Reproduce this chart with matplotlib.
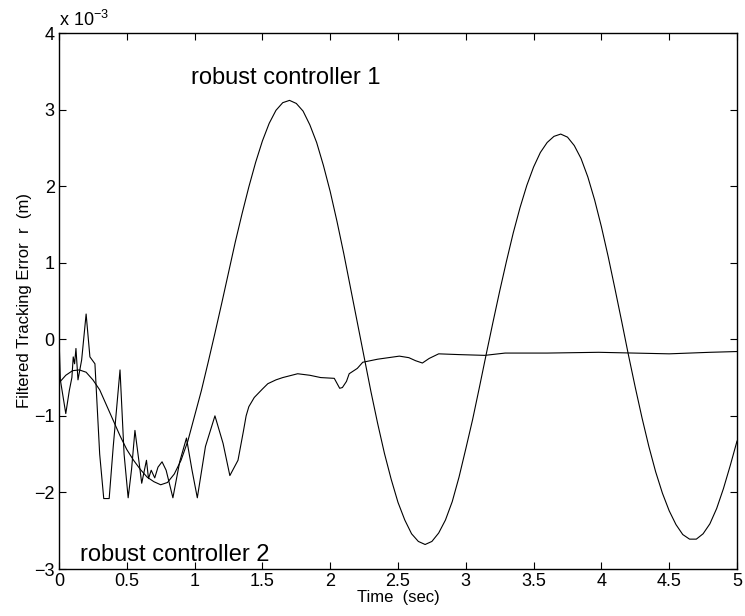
import matplotlib
matplotlib.use('Agg')
import matplotlib.pyplot as plt

plt.rcParams['font.family'] = ['Liberation Sans Narrow', 'Liberation Sans', 'DejaVu Sans']
plt.rcParams['mathtext.default'] = 'regular'

# robust controller 1 (values in 1e-3 m), sampled every 0.05 s
r1 = [-0.57, -0.47, -0.41, -0.40, -0.43, -0.53, -0.66, -0.86, -1.06, -1.26,
      -1.44, -1.58, -1.70, -1.80, -1.86, -1.90, -1.87, -1.76, -1.58, -1.33,
      -1.00, -0.67, -0.30, 0.08, 0.47, 0.87, 1.27, 1.64, 1.99, 2.31,
      2.59, 2.82, 2.99, 3.09, 3.12, 3.08, 2.98, 2.80, 2.57, 2.27,
      1.93, 1.54, 1.12, 0.67, 0.22, -0.23, -0.68, -1.10, -1.49, -1.83,
      -2.13, -2.36, -2.54, -2.64, -2.68, -2.64, -2.53, -2.36, -2.12, -1.80,
      -1.43, -1.05, -0.63, -0.20, 0.22, 0.63, 1.02, 1.39, 1.72, 2.01,
      2.25, 2.44, 2.57, 2.65, 2.68, 2.64, 2.53, 2.36, 2.12, 1.82,
      1.47, 1.08, 0.66, 0.23, -0.21, -0.63, -1.03, -1.40, -1.73, -2.01,
      -2.24, -2.42, -2.55, -2.61, -2.61, -2.54, -2.41, -2.21, -1.95, -1.65,
      -1.33]
t1 = [i * 0.05 for i in range(len(r1))]

# robust controller 2 (values in 1e-3 m)
t2 = [0.0, 0.01, 0.03, 0.05, 0.076, 0.095, 0.105, 0.115, 0.125, 0.14, 0.167, 0.2,
      0.228, 0.265, 0.3, 0.33, 0.37, 0.4, 0.45, 0.48, 0.51, 0.535, 0.56, 0.59,
      0.61, 0.645, 0.66, 0.68, 0.706, 0.73, 0.76, 0.79, 0.84, 0.89, 0.94, 0.98,
      1.02, 1.08, 1.15, 1.21, 1.26, 1.32, 1.36, 1.38, 1.40, 1.44, 1.5, 1.54, 1.6,
      1.65, 1.76, 1.85, 1.93, 2.03, 2.07, 2.09, 2.12, 2.14, 2.2, 2.24, 2.35, 2.51,
      2.58, 2.63, 2.68, 2.73, 2.80, 2.95, 3.14, 3.29, 3.6, 3.98, 4.5, 4.8, 5.0]
r2 = [0.03, -0.53, -0.75, -0.97, -0.67, -0.5, -0.23, -0.32, -0.12, -0.53, -0.27, 0.33,
      -0.23, -0.32, -1.5, -2.08, -2.08, -1.4, -0.4, -1.5, -2.07, -1.7, -1.19, -1.6,
      -1.88, -1.58, -1.82, -1.71, -1.81, -1.67, -1.6, -1.71, -2.07, -1.6, -1.29, -1.7,
      -2.07, -1.4, -1.0, -1.36, -1.78, -1.58, -1.2, -1.0, -0.88, -0.76, -0.65, -0.58, -0.53,
      -0.5, -0.45, -0.47, -0.5, -0.51, -0.64, -0.63, -0.55, -0.45, -0.38, -0.3, -0.26, -0.22,
      -0.24, -0.28, -0.31, -0.25, -0.19, -0.2, -0.21, -0.18, -0.18, -0.17, -0.19, -0.17, -0.16]

xticks = [0, 0.5, 1, 1.5, 2, 2.5, 3, 3.5, 4, 4.5, 5]
xticklabels = ['0', '0.5', '1', '1.5', '2', '2.5', '3', '3.5', '4', '4.5', '5']
yticks = [-3, -2, -1, 0, 1, 2, 3, 4]

fig = plt.figure(figsize=(7.45, 6.16), dpi=100)
ax = fig.add_axes([59/745, 47/616, 678/745, 536/616])

ax.plot(t1, r1, color='black', linewidth=0.8)
ax.plot(t2, r2, color='black', linewidth=0.8)

ax.set_xlim(0, 5)
ax.set_ylim(-3, 4)
ax.set_xticks(xticks)
ax.set_xticklabels(xticklabels)
ax.set_yticks(yticks)
ax.set_yticklabels([str(v).replace('-', '\u2212') for v in yticks])
ax.tick_params(direction='in', top=True, right=True, length=5, width=0.8,
               labelsize=13, pad=3)
for s in ax.spines.values():
    s.set_linewidth(1.0)

ax.set_xlabel('Time  (sec)', fontsize=12, labelpad=0)
ax.set_ylabel('Filtered Tracking Error  r  (m)', fontsize=12, labelpad=2)

ax.text(0.0, 1.005, 'x 10$^{-3}$', transform=ax.transAxes, fontsize=13,
        ha='left', va='bottom')

ax.text(1.67, 3.41, 'robust controller 1', fontsize=17, ha='center', va='center')
ax.text(0.155, -2.82, 'robust controller 2', fontsize=17, ha='left', va='center')

fig.savefig('out.png', dpi=100)
